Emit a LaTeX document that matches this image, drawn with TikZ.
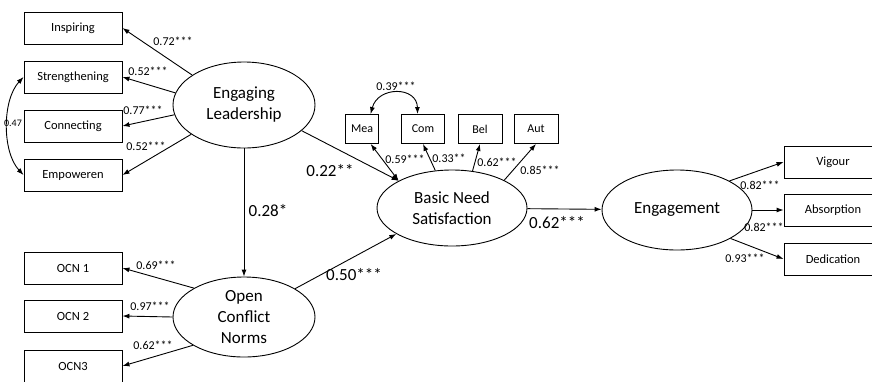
\documentclass[tikz,border=0pt]{standalone}
\usepackage{fontspec}
\setmainfont{Carlito}
\usetikzlibrary{shapes.geometric, arrows.meta}

\begin{document}
\begin{tikzpicture}[x = 1pt, y = -1pt, line width = 0.9pt, >={Latex[length = 7pt, width = 5pt]},
	box/.style = {draw, minimum width = 98pt, minimum height = 32pt, inner sep = 0pt, font = \fontsize{12.5}{14}\selectfont},
	smallbox/.style = {draw, minimum width = 33pt, minimum height = 29pt, inner sep = 0pt, font = \fontsize{12}{14}\selectfont},
	latent/.style = {draw, ellipse, inner sep = 0pt, align = center, font = \fontsize{17}{21}\selectfont},
	coef/.style = {inner sep = 0pt, font = \fontsize{12}{14}\selectfont},
	pathcoef/.style = {inner sep = 0pt, font = \fontsize{17}{19}\selectfont}]
					\def\xBOX{73};
					\def\xIND{833};

					\useasboundingbox (0,0) rectangle (872,381);

					\begin{scope}
						\node [latent, minimum width = 142pt, minimum height = 86pt] (lead) at (244,105) {Engaging\\Leadership};
						\node [latent, minimum width = 142pt, minimum height = 80pt] (ocn) at (244,317) {Open\\Conflict\\Norms};
						\node [latent, minimum width = 150pt, minimum height = 76pt] (bns) at (452,208) {Basic Need\\Satisfaction};
						\node [latent, minimum width = 150pt, minimum height = 80pt] (eng) at (677,210) {Engagement};
					\end{scope}

					\begin{scope}
						\node [box] (ins) at (\xBOX,28) {Inspiring};
						\node [box] (str) at (\xBOX,77) {Strengthening};
						\node [box] (con) at (\xBOX,126) {Connecting};
						\node [box] (emp) at (\xBOX,175) {Empoweren};
						\node [box] (ocn1) at (\xBOX,268) {OCN 1};
						\node [box] (ocn2) at (\xBOX,316) {OCN 2};
						\node [box] (ocn3) at (\xBOX,366) {OCN3};
						\node [box] (vig) at (\xIND,162) {Vigour};
						\node [box] (abs) at (\xIND,210) {Absorption};
						\node [box] (ded) at (\xIND,259) {Dedication};
						\node [smallbox] (mea) at (362,129) {Mea};
						\node [smallbox, minimum width = 43pt] (com) at (423,129) {Com};
						\node [smallbox, minimum width = 44pt] (bel) at (480,129) {Bel};
						\node [smallbox, minimum width = 44pt] (aut) at (536,129) {Aut};
					\end{scope}

					\begin{scope}[->]
						\draw (lead.150) -- (ins.east);
						\draw (lead.170) -- (str.east);
						\draw (lead.188) -- (con.east);
						\draw (lead.209) -- (emp.east);
						\draw (ocn.150) -- (ocn1.east);
						\draw (ocn.180) -- (ocn2.east);
						\draw (ocn.209) -- (ocn3.east);
						\draw (lead) -- (ocn);
						\draw (lead.-24) -- (bns.153);
						\draw (ocn.29) -- (bns.205);
						\draw (bns.114) -- (com.south);
						\draw (bns.61) -- (bel.south);
						\draw (bns.28) -- (aut.south);
						\draw (bns) -- (eng);
						\draw (eng.29) -- (vig.west);
						\draw (eng.east) -- (abs.west);
						\draw (eng.-28) -- (ded.west);
					\end{scope}

					\begin{scope}[<->]
						\draw (bns.153) -- (mea.-60);
						\draw (str.west) .. controls (2,100) and (2,152) .. (emp.west);
						\draw (mea.60) .. controls (378,86) and (417,86) .. (com.110);
					\end{scope}

					\begin{scope}
						\node [coef] (c1) at (173,41) {0.72***};
						\node [coef] (c2) at (148,71) {0.52***};
						\node [coef] (c3) at (143,110) {0.77***};
						\node [coef] (c4) at (146,146) {0.52***};
						\node [coef, font = \fontsize{10}{12}\selectfont] (c5) at (13,123) {0.47};
						\node [coef] (c6) at (156,265) {0.69***};
						\node [coef] (c7) at (150,306) {0.97***};
						\node [coef] (c8) at (153,345) {0.62***};
						\node [coef] (c9) at (396,86) {0.39***};
						\node [coef] (c10) at (405,159) {0.59***};
						\node [coef] (c11) at (449,158) {0.33**};
						\node [coef] (c12) at (497,162) {0.62***};
						\node [coef] (c13) at (540,170) {0.85***};
						\node [coef] (c14) at (760,185) {0.82***};
						\node [coef] (c15) at (764,227) {0.82***};
						\node [coef] (c16) at (745,258) {0.93***};
						\node [pathcoef] (p1) at (268,211) {0.28*};
						\node [pathcoef] (p2) at (330,171) {0.22**};
						\node [pathcoef] (p3) at (354,275) {0.50***};
						\node [pathcoef] (p4) at (557,223) {0.62***};
					\end{scope}
				\end{tikzpicture}
\end{document}
